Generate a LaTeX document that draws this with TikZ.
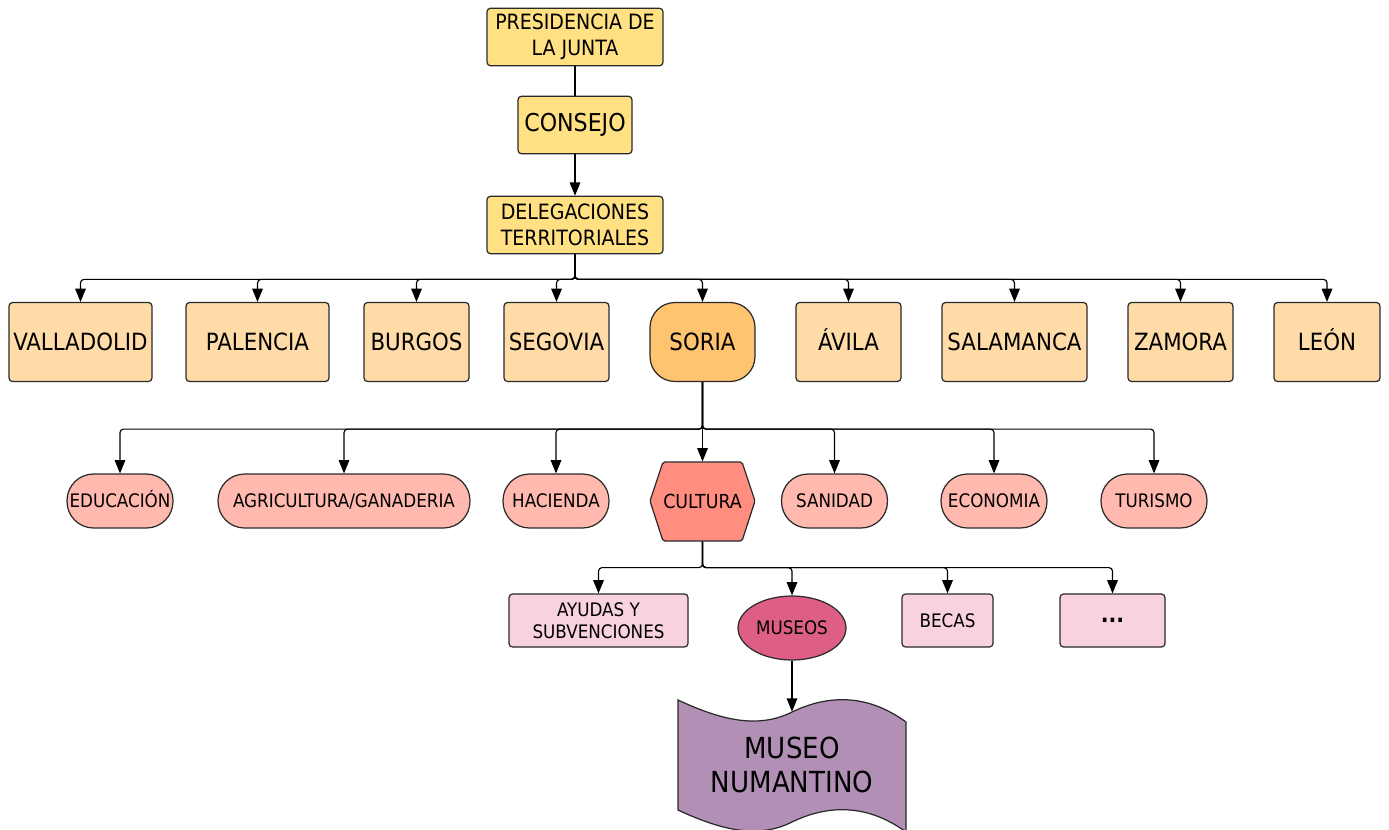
\documentclass[tikz,border=0pt]{standalone}
\usepackage{fontspec}
\setmainfont{DejaVu Sans Condensed}
\usetikzlibrary{arrows.meta,shapes.geometric}

\definecolor{amarillo}{HTML}{FFE083}
\definecolor{naranja}{HTML}{FFDBA8}
\definecolor{naranjafuerte}{HTML}{FFC470}
\definecolor{salmon}{HTML}{FFB9AF}
\definecolor{salmonfuerte}{HTML}{FF8D80}
\definecolor{rosa}{HTML}{F9D2DF}
\definecolor{rosafuerte}{HTML}{DE5F86}
\definecolor{morado}{HTML}{B290B5}
\definecolor{borde}{HTML}{2A2A2A}

\tikzset{
  caja/.style={draw=borde, line width=0.7pt, rounded corners=2pt, align=center,
    inner sep=0pt, font=\fontsize{13.5}{15}\selectfont},
  cabecera/.style={caja, fill=amarillo, minimum height=11.5mm,
    font=\fontsize{12}{14.5}\selectfont},
  provincia/.style={caja, fill=naranja, minimum height=15.8mm,
    text height=9.9pt, text depth=0pt},
  consejeria/.style={caja, fill=salmon, rounded corners=5.3mm, minimum height=10.8mm,
    minimum width=21.2mm, font=\fontsize{10.6}{12}\selectfont,
    text height=7.7pt, text depth=0pt},
  seccion/.style={caja, fill=rosa, minimum height=10.6mm, font=\fontsize{10.6}{12.5}\selectfont},
  flecha/.style={draw=black, line width=0.65pt, rounded corners=2pt,
    -{Triangle[width=6pt,length=7.5pt]}},
  linea/.style={draw=black, line width=0.65pt}
}

\begin{document}
\begin{tikzpicture}[x=0.02cm, y=-0.02cm]
\useasboundingbox (0,0) rectangle (1389,829);

% cabecera
\node[cabecera, minimum width=35.2mm] (presidencia) at (575,37) {PRESIDENCIA DE\\LA JUNTA};
\node[cabecera, minimum width=22.8mm, font=\fontsize{14}{16}\selectfont] (consejo) at (575,125) {CONSEJO};
\node[cabecera, minimum width=35.2mm] (delegaciones) at (575,225) {DELEGACIONES\\TERRITORIALES};

% provincias
\node[provincia, minimum width=28.6mm] (valladolid) at (80.5,342) {VALLADOLID};
\node[provincia, minimum width=28.6mm] (palencia) at (257.5,342) {PALENCIA};
\node[provincia, minimum width=21mm] (burgos) at (416.5,342) {BURGOS};
\node[provincia, minimum width=21mm] (segovia) at (556.5,342) {SEGOVIA};
\node[provincia, minimum width=21mm, fill=naranjafuerte, rounded corners=5mm] (soria) at (702.5,342) {SORIA};
\node[provincia, minimum width=21mm] (avila) at (848.5,342) {ÁVILA};
\node[provincia, minimum width=29mm] (salamanca) at (1014.5,342) {SALAMANCA};
\node[provincia, minimum width=21mm] (zamora) at (1180.5,342) {ZAMORA};
\node[provincia, minimum width=21.2mm] (leon) at (1327,342) {LEÓN};

% consejerias
\node[consejeria] (educacion) at (120,501) {EDUCACIÓN};
\node[consejeria, minimum width=50.4mm] (agricultura) at (344,501) {AGRICULTURA/GANADERIA};
\node[consejeria] (hacienda) at (556,501) {HACIENDA};
\draw[draw=borde, line width=0.7pt, fill=salmonfuerte, rounded corners=1pt]
  (650,501) -- (663,462) -- (742,462) -- (755,501) -- (742,541) -- (663,541) -- cycle;
\node[caja, draw=none, minimum width=21mm, minimum height=15.8mm,
  font=\fontsize{11}{13}\selectfont] (cultura) at (702.5,501.5) {CULTURA};
\node[consejeria] (sanidad) at (834.5,501) {SANIDAD};
\node[consejeria] (economia) at (994,501) {ECONOMIA};
\node[consejeria] (turismo) at (1154,501) {TURISMO};

% secciones de cultura
\node[seccion, minimum width=35.8mm] (ayudas) at (598.5,620.5) {AYUDAS Y\\SUBVENCIONES};
\node[seccion, ellipse, fill=rosafuerte, minimum width=21.6mm, minimum height=12.8mm] (museos) at (792,628) {MUSEOS};
\node[seccion, minimum width=18.2mm] (becas) at (947.5,620.5) {BECAS};
\node[seccion, minimum width=21mm, font=\fontsize{13}{15}\selectfont\bfseries] (otros) at (1112.5,620.5) {...};

% museo numantino
\draw[draw=borde, line width=0.7pt, fill=morado]
  (678,700) .. controls (725,722) and (760,728) .. (792,712)
  .. controls (825,696) and (865,692) .. (906,722) -- (906,832)
  .. controls (865,802) and (825,806) .. (792,822)
  .. controls (760,838) and (725,832) .. (678,810) -- cycle;
\node[align=center, minimum width=45.6mm, minimum height=21.2mm, inner sep=0pt,
  font=\fontsize{16.5}{19.5}\selectfont] (numantino) at (792,765) {MUSEO\\NUMANTINO};

% conectores
\draw[linea] (presidencia) -- (consejo);
\draw[flecha] (consejo) -- (delegaciones);
\foreach \p in {valladolid,palencia,burgos,segovia,soria,avila,salamanca,zamora,leon}
  \draw[flecha] (delegaciones.south) -- ++(0,25) -| (\p.north);
\foreach \c in {educacion,agricultura,hacienda,cultura,sanidad,economia,turismo}
  \draw[flecha] (soria.south) -- ++(0,47) -| (\c.north);
\foreach \s in {ayudas,museos,becas,otros}
  \draw[flecha] (cultura.south) -- ++(0,26) -| (\s.north);
\draw[flecha] (museos) -- (numantino);
\end{tikzpicture}
\end{document}
